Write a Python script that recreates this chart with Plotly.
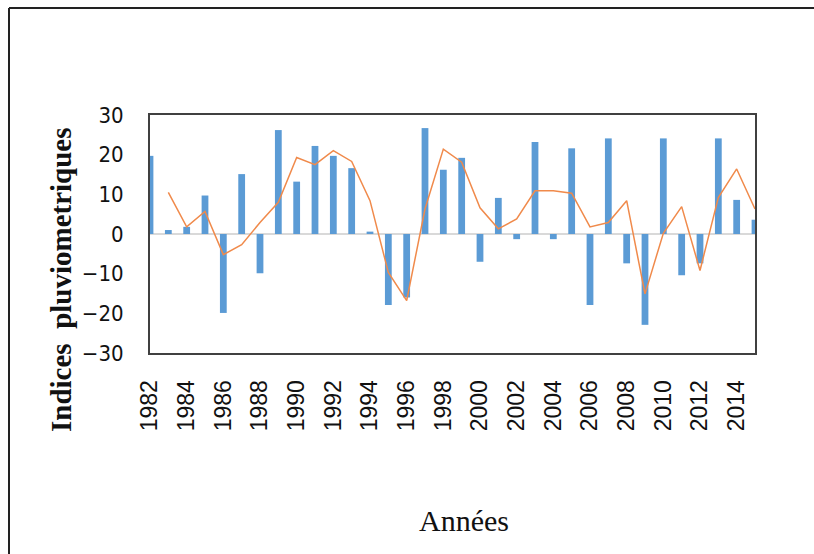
import plotly.graph_objects as go

years = list(range(1982, 2016))
indices = [19.7, 1.0, 1.8, 9.7, -19.9, 15.1, -9.9, 26.2, 13.2, 22.2, 19.7, 16.6,
           0.6, -17.9, -16.0, 26.7, 16.2, 19.2, -7.0, 9.1, -1.3, 23.2, -1.3, 21.6,
           -17.9, 24.1, -7.4, -22.9, 24.1, -10.4, -7.4, 24.1, 8.6, 3.6]
line_years = list(range(1983, 2016))
line_vals = [10.5, 1.8, 5.7, -5.2, -2.7, 2.9, 8.0, 19.3, 17.5, 21.0, 18.3, 8.4,
             -9.7, -16.8, 6.3, 21.4, 18.1, 6.6, 1.3, 3.8, 10.9, 10.9, 10.3, 1.8,
             2.9, 8.4, -15.1, 0.2, 6.9, -9.2, 9.2, 16.4, 6.3]
tick_years = list(range(1982, 2015, 2))
y_ticks = [-30, -20, -10, 0, 10, 20, 30]

fig = go.Figure()
fig.add_trace(go.Bar(x=years, y=indices, marker=dict(color="#5B9BD5", line=dict(width=0)),
                     width=0.37, showlegend=False))
fig.add_trace(go.Scatter(x=line_years, y=line_vals, mode="lines",
                         line=dict(color="#F08A4B", width=1.5), showlegend=False,
                         cliponaxis=True))

W, H = 814, 554
# screen positions of the plot area
L, R, T, B = 150, 755, 115, 353
ml, mt = L, T
mr = W - R
mb = H - B
pw, ph = R - L, B - T

def px2x(px):
    return (px - L) / pw

def py2y(py):
    return (B - py) / ph

frame = dict(color="#222222", width=2)
fig.update_layout(
    width=W, height=H,
    margin=dict(l=ml, r=mr, t=mt, b=mb, autoexpand=False),
    plot_bgcolor="white", paper_bgcolor="white",
    shapes=[
        dict(type="line", xref="paper", yref="paper",
             x0=px2x(9), x1=px2x(860), y0=py2y(8), y1=py2y(8), line=frame),
        dict(type="line", xref="paper", yref="paper",
             x0=px2x(9), x1=px2x(9), y0=py2y(8), y1=py2y(600), line=frame),
    ],
    annotations=[
        dict(text="<b>Indices  pluviometriques</b>", xref="paper", yref="paper",
             x=px2x(61), y=py2y(280), showarrow=False, textangle=-90,
             font=dict(family="Liberation Serif, Times New Roman, serif", size=29, color="#111111"),
             xanchor="center", yanchor="middle"),
        dict(text="Années", xref="paper", yref="paper",
             x=px2x(464), y=py2y(520), showarrow=False,
             font=dict(family="Liberation Serif, Times New Roman, serif", size=30, color="#111111"),
             xanchor="center", yanchor="middle"),
    ],
)
fig.update_xaxes(range=[1982, 2015], tickvals=tick_years, ticktext=[str(t) for t in tick_years],
                 tickangle=-90, showgrid=False, zeroline=False,
                 showline=True, mirror=True, linecolor="#404040", linewidth=2,
                 ticks="", ticklabelstandoff=16,
                 tickfont=dict(family="Liberation Sans, Arial, sans-serif", size=23, color="#111111"))
fig.update_yaxes(range=[-30, 30], tickvals=y_ticks, showgrid=False,
                 zeroline=True, zerolinecolor="#D9D9D9", zerolinewidth=2,
                 showline=True, mirror=True, linecolor="#404040", linewidth=2,
                 ticks="", ticklabelstandoff=20,
                 tickfont=dict(family="Liberation Sans Narrow, DejaVu Sans Condensed, Arial Narrow, sans-serif",
                               size=22, color="#111111"))

fig.write_html("out.html", config={"displayModeBar": False},
               post_script="document.body.style.margin='0';document.body.style.overflow='hidden';")
